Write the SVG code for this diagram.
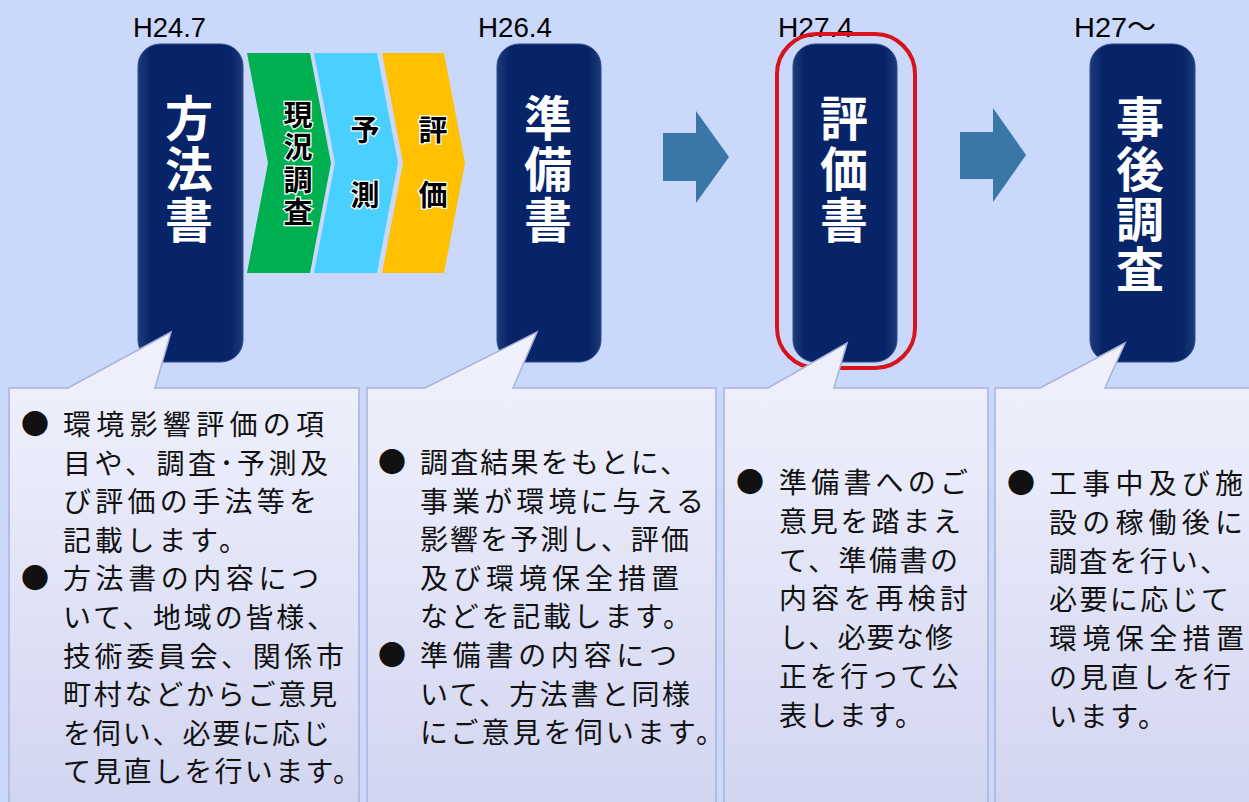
<svg xmlns="http://www.w3.org/2000/svg" width="1249" height="802" viewBox="0 0 1249 802">
  <defs>
    <linearGradient id="pill" x1="0" y1="0" x2="1" y2="0">
      <stop offset="0" stop-color="#1d3b79"/>
      <stop offset="0.12" stop-color="#072469"/>
      <stop offset="0.88" stop-color="#072469"/>
      <stop offset="1" stop-color="#1d3b79"/>
    </linearGradient>
    <linearGradient id="box" x1="0" y1="332" x2="0" y2="802" gradientUnits="userSpaceOnUse">
      <stop offset="0" stop-color="#f0f1fc"/>
      <stop offset="0.3" stop-color="#e9ebfa"/>
      <stop offset="1" stop-color="#d2d5f0"/>
    </linearGradient>
    <style>
      .pillar { fill: url(#pill); stroke: #2f4c88; stroke-width: 1; }
      .ptxt { font-family: "Noto Sans CJK JP", sans-serif; font-size: 48px; font-weight: bold; fill: #ffffff; writing-mode: vertical-rl; letter-spacing: 3px; }
      .ctxt { font-family: "Noto Sans CJK JP", sans-serif; font-size: 29px; font-weight: bold; fill: #000000; stroke: #ffffff; stroke-width: 2.5px; paint-order: stroke; writing-mode: vertical-rl; }
      .date { font-family: "Liberation Sans", "Noto Sans CJK JP", sans-serif; font-size: 28px; fill: #000000; }
      .arrow { fill: #3a77a7; }
      .callout { fill: url(#box); stroke: #a9b2d7; stroke-width: 1.5; }
      .btxt { font-family: "Noto Sans CJK JP", sans-serif; font-size: 28px; fill: #111111; }
    </style>
  </defs>

  <rect x="0" y="0" width="1249" height="802" fill="#cad8fb"/>

  <!-- date labels -->
  <g id="dates">
    <text class="date" x="133" y="37" textLength="73" lengthAdjust="spacingAndGlyphs">H24.7</text>
    <text class="date" x="478" y="37" textLength="74" lengthAdjust="spacingAndGlyphs">H26.4</text>
    <text class="date" x="778" y="37" textLength="75" lengthAdjust="spacingAndGlyphs">H27.4</text>
    <text class="date" x="1074" y="37" textLength="82" lengthAdjust="spacingAndGlyphs">H27〜</text>
  </g>

  <!-- highlight ring -->
  <g id="highlight">
    <rect x="777" y="34" width="138" height="334" rx="40" ry="40" fill="none" stroke="#d7141c" stroke-width="4"/>
  </g>

  <!-- pillars -->
  <g id="node-houhousho">
    <rect class="pillar" x="138" y="44" width="105" height="318" rx="22" ry="22"/>
    <text class="ptxt" x="189" y="94">方法書</text>
  </g>
  <g id="node-junbisho">
    <rect class="pillar" x="497" y="44" width="104" height="318" rx="22" ry="22"/>
    <text class="ptxt" x="548" y="94">準備書</text>
  </g>
  <g id="node-hyokasho">
    <rect class="pillar" x="793" y="44" width="104" height="318" rx="22" ry="22"/>
    <text class="ptxt" x="844" y="94">評価書</text>
  </g>
  <g id="node-jigochousa">
    <rect class="pillar" x="1090" y="44" width="105" height="318" rx="22" ry="22"/>
    <text class="ptxt" x="1140" y="95" style="letter-spacing:2px">事後調査</text>
  </g>

  <!-- chevrons -->
  <g id="node-genkyo">
    <polygon points="247,53 310,53 331,163 310,273 247,273 268,163" fill="#00b050"/>
    <text class="ctxt" x="298" y="100" style="letter-spacing:3.5px">現況調査</text>
  </g>
  <g id="node-yosoku">
    <polygon points="314,53 377,53 398,163 377,273 314,273 335,163" fill="#4ad0ff"/>
    <text class="ctxt" x="365" y="115" style="letter-spacing:36px">予測</text>
  </g>
  <g id="node-hyoka">
    <polygon points="382,53 444,53 465,163 444,273 382,273 403,163" fill="#ffc000"/>
    <text class="ctxt" x="433" y="115" style="letter-spacing:36px">評価</text>
  </g>

  <!-- connectors -->
  <g id="connectors">
    <polygon class="arrow" points="663,133 696,133 696,111 729,157 696,203 696,181 663,181"/>
    <polygon class="arrow" points="960,132 993,132 993,108 1026,155 993,202 993,179 960,179"/>
  </g>

  <!-- callouts -->
  <g id="callout-1">
    <path class="callout" d="M9,388 L68,388 L171,332 L155,388 L359,388 L359,812 L9,812 Z"/>
    <text class="btxt" x="21" y="435">●</text>
    <text class="btxt" x="63" y="435" textLength="261" lengthAdjust="spacing">環境影響評価の項</text>
    <text class="btxt" x="63" y="474" textLength="265" lengthAdjust="spacing">目や、調査･予測及</text>
    <text class="btxt" x="63" y="512" textLength="254" lengthAdjust="spacing">び評価の手法等を</text>
    <text class="btxt" x="63" y="551" textLength="184" lengthAdjust="spacing">記載します。</text>
    <text class="btxt" x="21" y="589">●</text>
    <text class="btxt" x="63" y="589" textLength="256" lengthAdjust="spacing">方法書の内容につ</text>
    <text class="btxt" x="63" y="628" textLength="272" lengthAdjust="spacing">いて、地域の皆様、</text>
    <text class="btxt" x="63" y="667" textLength="281" lengthAdjust="spacing">技術委員会、関係市</text>
    <text class="btxt" x="63" y="705" textLength="274" lengthAdjust="spacing">町村などからご意見</text>
    <text class="btxt" x="63" y="744" textLength="267" lengthAdjust="spacing">を伺い、必要に応じ</text>
    <text class="btxt" x="63" y="782" textLength="298" lengthAdjust="spacing">て見直しを行います。</text>
  </g>
  <g id="callout-2">
    <path class="callout" d="M367,388 L425,388 L537,332 L513,388 L716,388 L716,812 L367,812 Z"/>
    <text class="btxt" x="378" y="473">●</text>
    <text class="btxt" x="420" y="473" textLength="268" lengthAdjust="spacing">調査結果をもとに、</text>
    <text class="btxt" x="420" y="512" textLength="284" lengthAdjust="spacing">事業が環境に与える</text>
    <text class="btxt" x="420" y="550" textLength="269" lengthAdjust="spacing">影響を予測し、評価</text>
    <text class="btxt" x="420" y="589" textLength="259" lengthAdjust="spacing">及び環境保全措置</text>
    <text class="btxt" x="420" y="627" textLength="271" lengthAdjust="spacing">などを記載します。</text>
    <text class="btxt" x="378" y="666">●</text>
    <text class="btxt" x="420" y="666" textLength="257" lengthAdjust="spacing">準備書の内容につ</text>
    <text class="btxt" x="420" y="705" textLength="270" lengthAdjust="spacing">いて、方法書と同様</text>
    <text class="btxt" x="420" y="743" textLength="304" lengthAdjust="spacing">にご意見を伺います。</text>
  </g>
  <g id="callout-3">
    <path class="callout" d="M724,388 L768,388 L847,343 L834,388 L988,388 L988,812 L724,812 Z"/>
    <text class="btxt" x="736" y="493">●</text>
    <text class="btxt" x="779" y="493" textLength="189" lengthAdjust="spacing">準備書へのご</text>
    <text class="btxt" x="779" y="532" textLength="182" lengthAdjust="spacing">意見を踏まえ</text>
    <text class="btxt" x="779" y="571" textLength="179" lengthAdjust="spacing">て、準備書の</text>
    <text class="btxt" x="779" y="609" textLength="189" lengthAdjust="spacing">内容を再検討</text>
    <text class="btxt" x="779" y="648" textLength="174" lengthAdjust="spacing">し、必要な修</text>
    <text class="btxt" x="779" y="687" textLength="180" lengthAdjust="spacing">正を行って公</text>
    <text class="btxt" x="779" y="726" textLength="144" lengthAdjust="spacing">表します。</text>
  </g>
  <g id="callout-4">
    <path class="callout" d="M995,388 L1040,388 L1125,343 L1105,388 L1262,388 L1262,812 L995,812 Z"/>
    <text class="btxt" x="1007" y="494">●</text>
    <text class="btxt" x="1049" y="494" textLength="194" lengthAdjust="spacing">工事中及び施</text>
    <text class="btxt" x="1049" y="533" textLength="194" lengthAdjust="spacing">設の稼働後に</text>
    <text class="btxt" x="1049" y="572" textLength="179" lengthAdjust="spacing">調査を行い、</text>
    <text class="btxt" x="1049" y="610" textLength="180" lengthAdjust="spacing">必要に応じて</text>
    <text class="btxt" x="1049" y="649" textLength="195" lengthAdjust="spacing">環境保全措置</text>
    <text class="btxt" x="1049" y="688" textLength="182" lengthAdjust="spacing">の見直しを行</text>
    <text class="btxt" x="1049" y="727" textLength="117" lengthAdjust="spacing">います。</text>
  </g>
</svg>
